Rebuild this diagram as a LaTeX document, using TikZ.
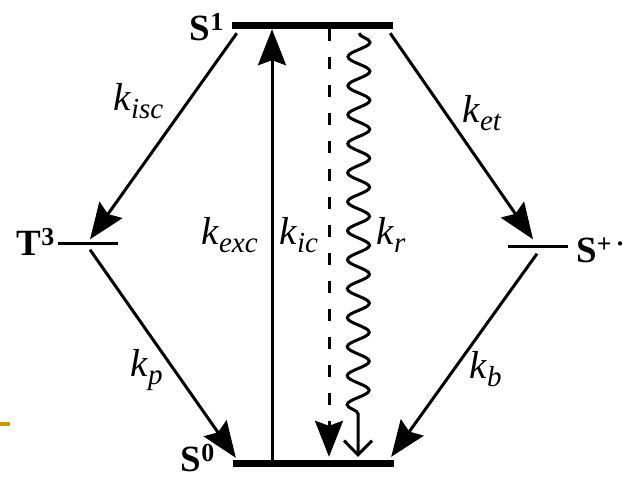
\documentclass[tikz,border=0pt]{standalone}
\usepackage{fontspec}
\setmainfont{Liberation Serif}[ItalicFont={Liberation Serif Italic},BoldFont={Liberation Serif Bold}]
\usetikzlibrary{arrows.meta,positioning,decorations.pathmorphing}
\definecolor{gold}{HTML}{CC9900}
\newcommand{\rate}[1]{\textit{k}\raisebox{-8pt}{\fontsize{29}{32}\selectfont\textit{#1}}}
\tikzset{
level/.style={fill=black,inner sep=0pt,minimum height=7pt,minimum width=161pt},
sublevel/.style={fill=black,inner sep=0pt,minimum height=3pt,minimum width=60pt},
state/.style={font=\fontsize{37}{40}\selectfont\bfseries,inner sep=0pt,anchor=base east},
ratelabel/.style={font=\fontsize{39}{44}\selectfont,inner sep=0pt,anchor=base west},
flow/.style={-{Stealth[length=36pt,width=28pt,inset=5pt]},line width=3pt},
softflow/.style={flow,dash pattern=on 12pt off 16pt},
wave/.style={-{Straight Barb[length=14pt,width=28pt]},line width=3pt,
  decorate,decoration={snake,segment length=29pt,amplitude=11pt,post length=30pt}}}
\begin{document}
\begin{tikzpicture}[x=1pt,y=-1pt]
\useasboundingbox (0,0) rectangle (631,479);
% energy levels
\node[level] (S1) at (312.5,25.5) {};
\node[level] (S0) at (313.5,463.5) {};
\node[sublevel] (T3) at (88,243) {};
\node[sublevel] (Sp) at (538,246) {};
\node[state] (S1lbl) at (224,40) {S\textsuperscript{1}};
\node[state] (S0lbl) at (215,471) {S\textsuperscript{0}};
\node[state] (T3lbl) at (55,255) {T\textsuperscript{3}};
\node[state,anchor=base west] (Splbl) at (576,262) {S\textsuperscript{+\,·}};
% transitions
\draw[flow] ([xshift=5pt,yshift=-4pt]S1.south west) -- ([xshift=2pt,yshift=2pt]T3.north);
\draw[flow] ([xshift=2pt,yshift=-5pt]T3.south) -- ([xshift=3pt,yshift=2pt]S0.north west);
\draw[flow] ([xshift=-3pt,yshift=-4pt]S1.south east) -- ([xshift=-5pt,yshift=5pt]Sp.north);
\draw[flow] ([xshift=-1pt,yshift=-6pt]Sp.south) -- ([xshift=-3pt,yshift=3pt]S0.north east);
\draw[flow] ([xshift=-41.5pt]S0.north) -- ([xshift=-40.5pt]S1.south);
\draw[softflow] ([xshift=16.5pt]S1.south) -- ([xshift=15.5pt,yshift=3pt]S0.north);
\draw[wave] ([xshift=46.5pt,yshift=-4pt]S1.south) -- ([xshift=44.5pt,yshift=3pt]S0.north);
% rate constants
\node[ratelabel] (kisc) at (113,110) {\rate{isc}};
\node[ratelabel] (ket) at (462,122) {\rate{et}};
\node[ratelabel] (kexc) at (201,244) {\rate{exc}};
\node[ratelabel] (kic) at (279,244) {\rate{ic}};
\node[ratelabel] (kr) at (376,244) {\rate{r}};
\node[ratelabel] (kp) at (130,376) {\rate{p}};
\node[ratelabel] (kb) at (469,378) {\rate{b}};
\fill[gold] (0,422) rectangle (10,426);
\end{tikzpicture}
\end{document}
